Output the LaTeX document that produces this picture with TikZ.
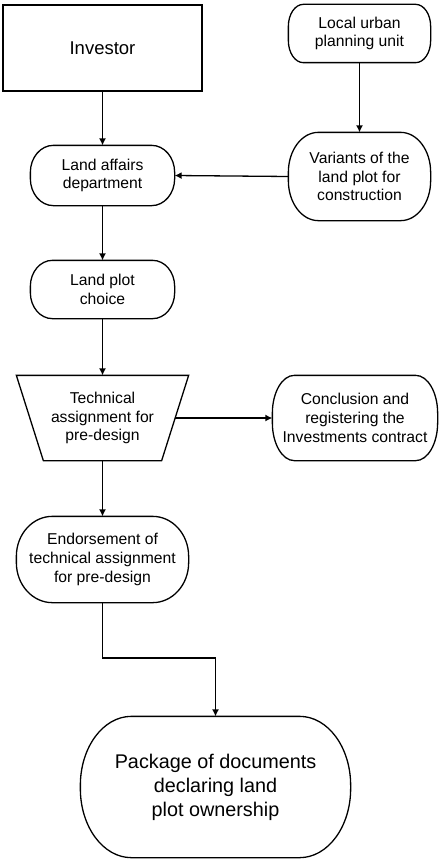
\documentclass[tikz,border=0pt]{standalone}
\usepackage{fontspec}
\setmainfont{Liberation Sans}
\usetikzlibrary{arrows.meta,calc}
\tikzset{
  box/.style={draw, line width=1.3pt, align=center, inner sep=0pt,
    font=\fontsize{15.7}{18.8}\selectfont},
  term/.style={box, draw=none},
  arr/.style={line width=1.3pt, -{Latex[length=7pt,width=7pt]}},
  plain/.style={line width=1.3pt},
}
% #1 node name, #2 x radius, #3 y radius of the corner ellipses
\newcommand\termdraw[3]{%
  \draw[plain] ([xshift=#2]#1.north west) -- ([xshift=-#2]#1.north east)
    arc[start angle=90,end angle=0,x radius=#2,y radius=#3]
    -- ([yshift=#3]#1.south east)
    arc[start angle=0,end angle=-90,x radius=#2,y radius=#3]
    -- ([xshift=#2]#1.south west)
    arc[start angle=270,end angle=180,x radius=#2,y radius=#3]
    -- ([yshift=-#3]#1.north west)
    arc[start angle=180,end angle=90,x radius=#2,y radius=#3] -- cycle;}
\begin{document}
\begin{tikzpicture}[x=1pt,y=-1pt]
\useasboundingbox (0,0) rectangle (442,859);
\fill[white] (0,0) rectangle (442,859);
\node[box, minimum width=199pt, minimum height=86pt, font=\fontsize{18.5}{22}\selectfont] (inv) at (102.5,48) {Investor};
\node[term, minimum width=141pt, minimum height=57pt] (local) at (359.5,33.5) {Local urban\\planning unit};
\termdraw{local}{15pt}{22pt}
\node[term, minimum width=141pt, minimum height=87pt] (var) at (359.5,176.5) {Variants of the\\land plot for\\construction};
\termdraw{var}{30pt}{40pt}
\node[term, minimum width=143pt, minimum height=59pt] (land) at (102.5,175.5) {Land affairs\\department};
\termdraw{land}{23pt}{27pt}
\node[term, minimum width=143pt, minimum height=57pt] (plot) at (102.5,289.5) {Land plot\\choice};
\termdraw{plot}{22pt}{26pt}
\node[box, draw=none, minimum width=171pt, minimum height=84pt] (tech) at (102.5,418) {Technical\\assignment for\\pre-design};
\draw[plain] (tech.north west) -- (tech.north east) -- ([xshift=-27pt]tech.south east) -- ([xshift=27pt]tech.south west) -- cycle;
\coordinate (techr) at ($(tech.north east)!0.5!([xshift=-27pt]tech.south east)$);
\node[term, minimum width=164pt, minimum height=84pt] (concl) at (355,418) {Conclusion and\\registering the\\Investments contract};
\termdraw{concl}{22pt}{38pt}
\node[term, minimum width=171pt, minimum height=85pt] (endo) at (102.5,559.5) {Endorsement of\\technical assignment\\for pre-design};
\termdraw{endo}{36pt}{40pt}
\node[term, minimum width=269pt, minimum height=140pt, font=\fontsize{19.8}{24}\selectfont] (pkg) at (215.5,787) {Package of documents\\declaring land\\plot ownership};
\termdraw{pkg}{51pt}{69pt}
\coordinate (bend) at (102.5,658);
\draw[arr] (inv.south) -- (land.north);
\draw[arr] (local.south) -- (var.north);
\draw[arr] (var.west) -- (land.east);
\draw[arr] (land.south) -- (plot.north);
\draw[arr] (plot.south) -- (tech.north);
\draw[arr] (techr) -- (concl.west);
\draw[arr] (tech.south) -- (endo.north);
\draw[arr] (endo.south) -- (bend) -| (pkg.north);
\end{tikzpicture}
\end{document}
